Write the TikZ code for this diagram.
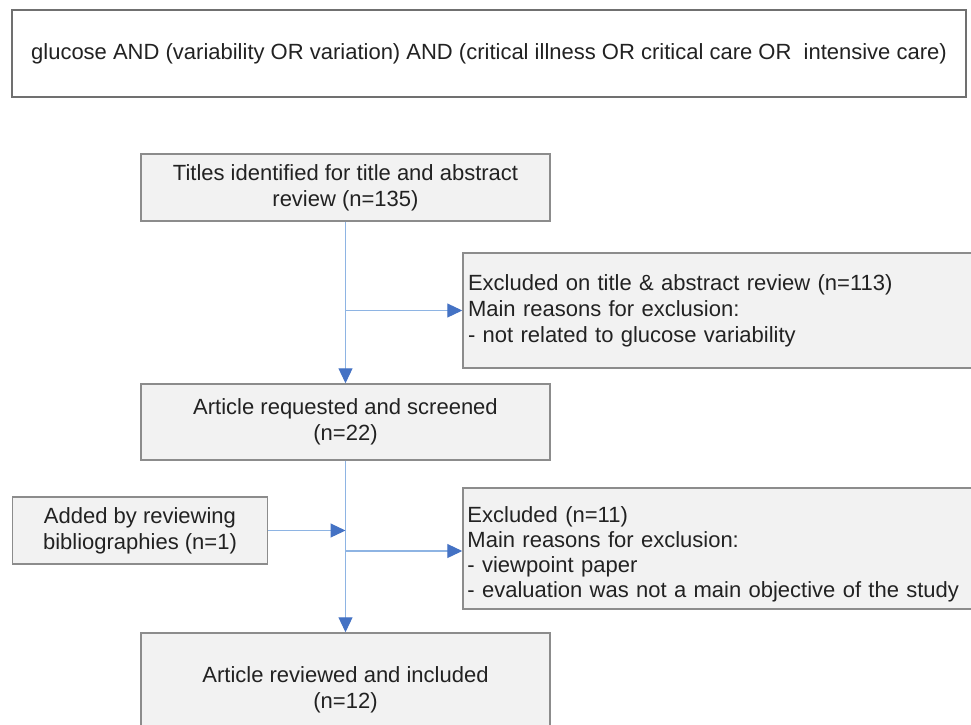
\documentclass[tikz,border=0pt]{standalone}
\usepackage{fontspec}
\setmainfont{Liberation Sans}
\usetikzlibrary{arrows.meta}
\definecolor{boxfill}{HTML}{F2F2F2}
\definecolor{boxdraw}{HTML}{8C8C8C}
\definecolor{linecol}{HTML}{8EB4E3}
\definecolor{tipcol}{HTML}{4472C4}
\definecolor{txt}{HTML}{222222}
\tikzset{
  flowbox/.style={draw=boxdraw, line width=1.5pt, fill=boxfill, rectangle,
    text=txt, font=\fontsize{22}{26}\selectfont, inner sep=0pt, align=center},
  leftbox/.style={flowbox, align=left, inner xsep=5pt},
  plaintext/.style={text=txt, font=\fontsize{22}{25}\selectfont, inner sep=0pt, align=left},
  querybox/.style={draw=boxdraw!80!black, line width=1.2pt, fill=white, rectangle,
    text=txt, font=\fontsize{22}{26}\selectfont, inner sep=0pt, align=center},
  conn/.style={draw=linecol, line width=1.2pt,
    -{Triangle[length=15pt,width=14pt,color=tipcol]}},
}
\begin{document}
\begin{tikzpicture}[x=1pt,y=-1pt]
\useasboundingbox[fill=white] (0,0) rectangle (971,724);
% query box
\node[querybox, minimum width=954pt, minimum height=87pt] (q) at (489,53.5)
  {\raisebox{-2pt}{glucose AND (variability OR variation) AND (critical illness OR critical care OR \ intensive care)}};
% main boxes
\node[flowbox, minimum width=409pt, minimum height=67pt] (t) at (345.5,187.5)
  {Titles identified for title and abstract\\review (n=135)};
\node[leftbox, minimum width=520pt, minimum height=115pt, text width=510pt] (e1) at (723,310.5)
  {Excluded on title \& abstract review (n=113)\\Main reasons for exclusion:\\- not related to glucose variability};
\node[flowbox, minimum width=409pt, minimum height=76pt] (r) at (345.5,422)
  {Article requested and screened\\(n=22)};
\node[flowbox, minimum width=255pt, minimum height=67pt] (a) at (140,530.5)
  {Added by reviewing\\bibliographies (n=1)};
\node[flowbox, minimum width=520pt, minimum height=121pt] (e2) at (723,548.5) {};
\node[plaintext, anchor=west, text width=510pt] (e2t) at ([xshift=5pt,yshift=-6pt]e2.west)
  {Excluded (n=11)\\Main reasons for exclusion:\\- viewpoint paper\\- evaluation was not a main objective of the study};
\node[flowbox, minimum width=409pt, minimum height=114pt] (v) at (345.5,690)
  {Article reviewed and included\\(n=12)};
% connectors
\coordinate (b1) at (t.south |- e1.west);
\draw[conn] (t.south) -- (r.north);
\draw[conn] (b1) -- (e1.west);
\draw[conn] (r.south) -- (v.north);
\draw[conn] (a.east) -- (a.east -| r.south);
\coordinate (b3) at (r.south |- e2.west);
\draw[conn] ([yshift=-2.5pt]b3) -- ([yshift=-2.5pt]e2.west);
\end{tikzpicture}
\end{document}
